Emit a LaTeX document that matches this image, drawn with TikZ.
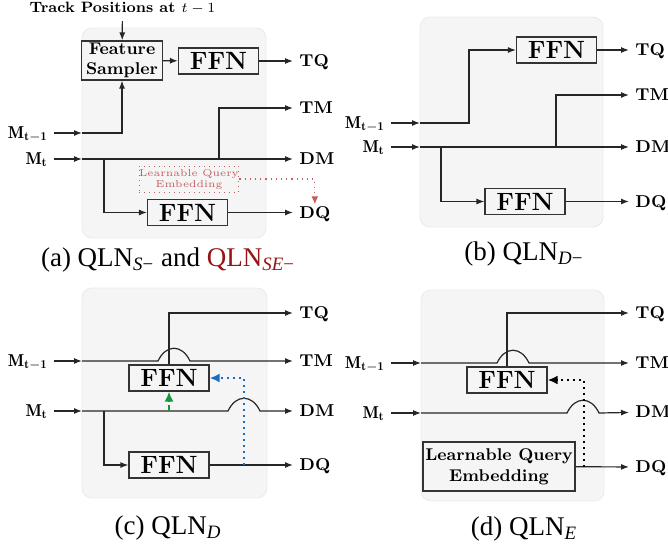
\documentclass[tikz,border=0pt]{standalone}
\usepackage{fontspec}
\newfontfamily\capfont{Liberation Serif}
\usetikzlibrary{arrows.meta}

\definecolor{panelbg}{RGB}{245,245,245}
\definecolor{panelrule}{RGB}{234,234,234}
\definecolor{qred}{RGB}{195,95,95}
\definecolor{capred}{RGB}{150,20,20}
\definecolor{qgreen}{RGB}{20,150,60}
\definecolor{qblue}{RGB}{25,110,190}

\tikzset{
  wire/.style={line width=0.6pt, draw=black!85},
  arr/.style={wire, -{Latex[length=4pt,width=3pt]}},
  panel/.style={fill=panelbg, draw=panelrule, line width=0.4pt, rounded corners=5pt},
  ffn/.style={draw=black!80, line width=0.6pt, minimum width=40pt, minimum height=13pt,
    inner sep=0pt, font=\fontsize{12.5}{13}\selectfont\bfseries},
  sampler/.style={draw=black!80, line width=0.6pt, minimum width=40.5pt, minimum height=19.5pt,
    inner sep=0pt, align=center, font=\fontsize{8.5}{10}\selectfont\bfseries},
  qle/.style={draw=qred, dotted, line width=0.5pt, minimum width=40pt, minimum height=13pt,
    inner sep=0pt, align=center, text=qred, font=\fontsize{5}{5.5}\selectfont},
  lqe/.style={draw=black!80, line width=0.6pt, minimum width=76pt, minimum height=24.5pt,
    inner sep=0pt, align=center, font=\fontsize{8.5}{10.5}\selectfont\bfseries},
  lbl/.style={inner xsep=3pt, inner ysep=1pt, text height=5.8pt, text depth=0pt,
    font=\fontsize{8.6}{9}\selectfont\bfseries},
  captxt/.style={anchor=base, font=\capfont\fontsize{13.5}{15}\selectfont},
  qarr/.style={draw=qred, dotted, line width=0.6pt, -{Latex[length=4pt,width=3.5pt]}},
  garr/.style={draw=qgreen, dash dot, line width=0.9pt, -{Latex[length=5pt,width=4.5pt]}},
  barr/.style={draw=qblue, dotted, line width=1pt, -{Latex[length=5pt,width=4.5pt]}},
  darr/.style={draw=black, dotted, line width=1pt, -{Latex[length=5pt,width=4.5pt]}},
}

\begin{document}
\begin{tikzpicture}[x=0.5pt, y=-0.5pt]
\useasboundingbox (0,0) rectangle (668,547);

% (a) QLN_{S-} / QLN_{SE-}
\filldraw[panel] (82,28) rectangle (266,238);
\node[font=\fontsize{7.5}{8}\selectfont\bfseries] (aTP) at (122.5,8) {Track Positions at $t-1$};
\node[sampler] (aFS) at (122,60.5) {Feature\\Sampler};
\node[ffn] (aFT) at (218.5,61) {FFN};
\node[ffn] (aFD) at (187.5,212.5) {FFN};
\node[qle] (aLQE) at (189,179) {Learnable Query\\Embedding};
\node[lbl, anchor=west] (aTQ) at (293,61) {TQ};
\node[lbl, anchor=west] (aTM) at (293,108) {TM};
\node[lbl, anchor=west] (aDM) at (293,159) {DM};
\node[lbl, anchor=west] (aDQ) at (293,212.5) {DQ};
\node[lbl, anchor=east] (aMp) at (54,133) {$\mathbf{M_{t-1}}$};
\node[lbl, anchor=east] (aMc) at (54,159) {$\mathbf{M_t}$};
\coordinate (aIn1) at (82,133);
\coordinate (aIn2) at (82,159);
\coordinate (aBr) at (104,159);
\coordinate (aSp) at (219,159);

\draw[arr] (aTP) -- (aFS);
\draw[arr] (aFS) -- (aFT);
\draw[arr] (aFT) -- (aTQ);
\draw[arr] (aMp) -- (aIn1);
\draw[arr] (aIn1) -| (aFS);
\draw[arr] (aMc) -- (aIn2);
\draw[arr] (aIn2) -- (aDM);
\draw[arr] (aSp) |- (aTM);
\draw[arr] (aBr) |- (aFD);
\draw[arr] (aFD) -- (aDQ);
\draw[qarr] (aLQE) -| (aDQ);

\node[captxt] (aCap) at (168,266) {(a) QLN\textsubscript{\textit{S}−} and \textcolor{capred}{QLN\textsubscript{\textit{SE}−}}};

% (b) QLN_{D-}
\filldraw[panel] (420,17) rectangle (603,227);
\node[ffn] (bFT) at (556.5,50) {FFN};
\node[ffn] (bFD) at (525,201.5) {FFN};
\node[lbl, anchor=west] (bTQ) at (629,50) {TQ};
\node[lbl, anchor=west] (bTM) at (629,95) {TM};
\node[lbl, anchor=west] (bDM) at (629,147) {DM};
\node[lbl, anchor=west] (bDQ) at (629,201.5) {DQ};
\node[lbl, anchor=east] (bMp) at (391,123) {$\mathbf{M_{t-1}}$};
\node[lbl, anchor=east] (bMc) at (391,147) {$\mathbf{M_t}$};
\coordinate (bIn1) at (420,123);
\coordinate (bUp) at (469,123);
\coordinate (bIn2) at (420,147);
\coordinate (bBr) at (441,147);
\coordinate (bSp) at (556,147);

\draw[arr] (bMp) -- (bIn1);
\draw[arr] (bIn1) -- (bUp) |- (bFT);
\draw[arr] (bFT) -- (bTQ);
\draw[arr] (bMc) -- (bIn2);
\draw[arr] (bIn2) -- (bDM);
\draw[arr] (bSp) |- (bTM);
\draw[arr] (bBr) |- (bFD);
\draw[arr] (bFD) -- (bDQ);

\node[captxt] (bCap) at (524,260) {(b) QLN\textsubscript{\textit{D}−}};

% (c) QLN_D
\filldraw[panel] (82,288) rectangle (267,498);
\node[ffn] (cFT) at (169,378) {FFN};
\node[ffn] (cFD) at (169,465) {FFN};
\node[lbl, anchor=west] (cTQ) at (293,313) {TQ};
\node[lbl, anchor=west] (cTM) at (293,361) {TM};
\node[lbl, anchor=west] (cDM) at (293,411) {DM};
\node[lbl, anchor=west] (cDQ) at (293,465) {DQ};
\node[lbl, anchor=east] (cMp) at (54,361) {$\mathbf{M_{t-1}}$};
\node[lbl, anchor=east] (cMc) at (54,411) {$\mathbf{M_t}$};
\coordinate (cIn1) at (82,361);
\coordinate (cIn2) at (82,411);
\coordinate (cBr) at (104,411);
\coordinate (cGr) at (169,411);
\coordinate (cBl) at (244,465);

\draw[arr] (cMp) -- (cIn1);
\draw[arr] (cIn1) -- (158,361) .. controls +(8,-17) and +(-8,-17) .. (190,361) -- (cTM);
\draw[arr] (cFT) |- (cTQ);
\draw[arr] (cMc) -- (cIn2);
\draw[arr] (cIn2) -- (228,411) .. controls +(8,-17) and +(-8,-17) .. (260,411) -- (cDM);
\draw[arr] (cBr) |- (cFD);
\draw[arr] (cFD) -- (cDQ);
\draw[garr] (cGr) -- (cFT);
\draw[barr] (cBl) |- (cFT);

\node[captxt] (cCap) at (168,534) {(c) QLN\textsubscript{\textit{D}}};

% (d) QLN_E
\filldraw[panel] (421,290) rectangle (604,501);
\node[ffn] (dFT) at (507,380) {FFN};
\node[lqe] (dLQE) at (499,466.5) {Learnable Query\\Embedding};
\node[lbl, anchor=west] (dTQ) at (629,313) {TQ};
\node[lbl, anchor=west] (dTM) at (629,363) {TM};
\node[lbl, anchor=west] (dDM) at (629,412) {DM};
\node[lbl, anchor=west] (dDQ) at (629,467) {DQ};
\node[lbl, anchor=east] (dMp) at (391,363) {$\mathbf{M_{t-1}}$};
\node[lbl, anchor=east] (dMc) at (391,413) {$\mathbf{M_t}$};
\coordinate (dIn1) at (421,363);
\coordinate (dIn2) at (421,413);
\coordinate (dDt) at (584,467);

\draw[arr] (dMp) -- (dIn1);
\draw[arr] (dIn1) -- (497,363) .. controls +(8,-17) and +(-8,-17) .. (529,363) -- (dTM);
\draw[arr] (dFT) |- (dTQ);
\draw[arr] (dMc) -- (dIn2);
\draw[arr] (dIn2) -- (567,413) .. controls +(8,-17) and +(-8,-17) .. (599,413) -- (dDM);
\draw[arr] (dLQE) -- (dDQ);
\draw[darr] (dDt) |- (dFT);

\node[captxt] (dCap) at (524,535) {(d) QLN\textsubscript{\textit{E}}};

\end{tikzpicture}
\end{document}
